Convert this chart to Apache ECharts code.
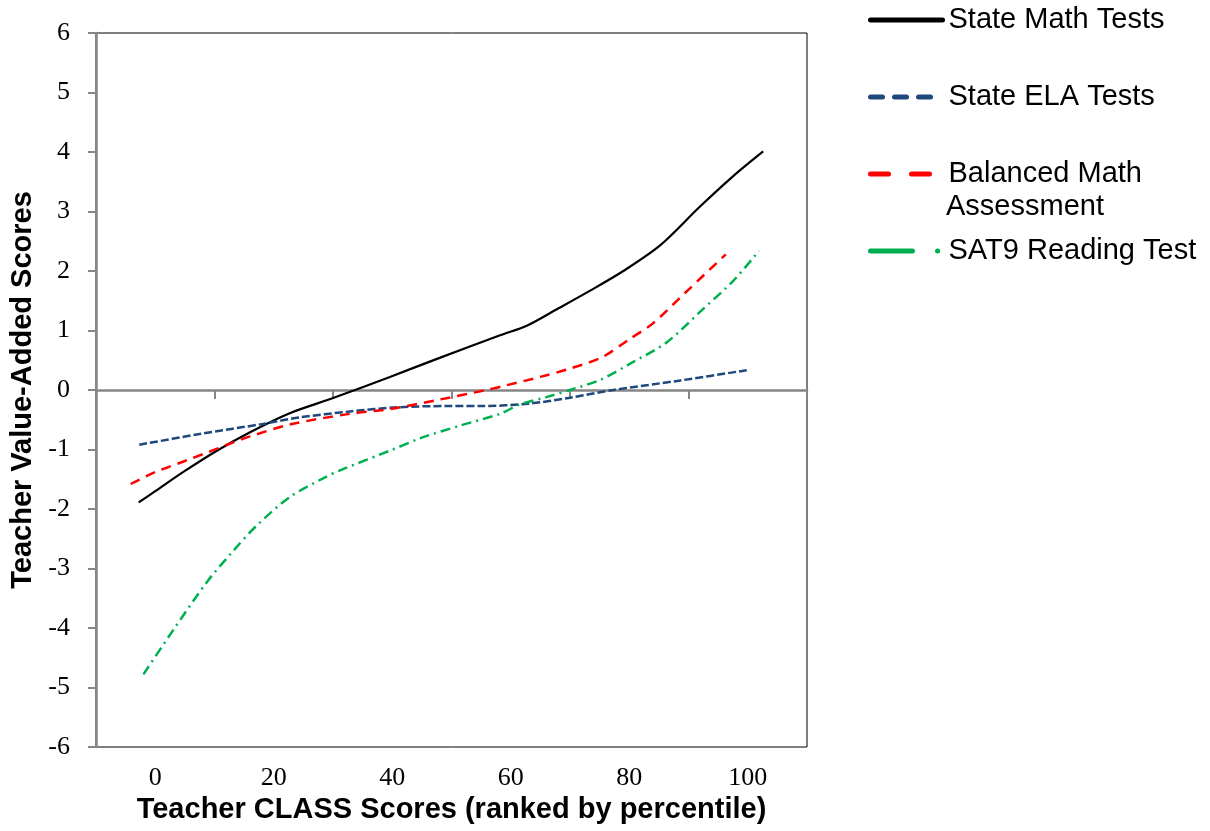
<!DOCTYPE html>
<html><head><meta charset="utf-8">
<script src="https://cdn.jsdelivr.net/npm/echarts@6/dist/echarts.min.js"></script>
<style>html,body{margin:0;padding:0;background:#fff}#c{width:1210px;height:831px}</style>
</head><body><div id="c"></div>
<script>
// ---- data ----
const seriesNames = ['State Math Tests', 'State ELA Tests', 'Balanced Math Assessment', 'SAT9 Reading Test'];
const xTickLabels = [0, 20, 40, 60, 80, 100];
const yTickLabels = [-6, -5, -4, -3, -2, -1, 0, 1, 2, 3, 4, 5, 6];

const mathX = [-2.8, 0, 5, 10.4, 16, 22.7, 29.9, 39.6, 48, 58.2, 62.7, 68, 73.4, 79, 85.2, 91.9, 97.6, 102.6];
const mathY = [-1.89, -1.70, -1.36, -1.02, -0.71, -0.39, -0.14, 0.22, 0.54, 0.92, 1.08, 1.37, 1.67, 2.0, 2.43, 3.08, 3.60, 4.01];

const elaX = [-2.7, 7.5, 18.2, 24.4, 32.9, 41, 49, 55, 63, 70, 77.3, 88.6, 100.3];
const elaY = [-0.92, -0.74, -0.57, -0.46, -0.36, -0.29, -0.27, -0.27, -0.23, -0.13, 0, 0.16, 0.34];

const balX = [-4.15, 0, 5.9, 13.2, 16, 22.7, 32.9, 39.6, 48, 55.9, 59.3, 65, 70, 75.4, 80.1, 84, 89.4, 96.3];
const balY = [-1.58, -1.38, -1.16, -0.88, -0.78, -0.58, -0.40, -0.32, -0.16, 0, 0.08, 0.22, 0.36, 0.55, 0.86, 1.12, 1.63, 2.28];

const satX = [-2, 3, 8.7, 13.2, 17.1, 22.7, 28.4, 31.2, 39.6, 45, 51.4, 58.2, 61.6, 66, 70, 75.1, 80.1, 86.3, 91.9, 97.6, 101.9];
const satY = [-4.78, -4.04, -3.23, -2.70, -2.28, -1.80, -1.48, -1.35, -1.02, -0.80, -0.60, -0.40, -0.24, -0.12, 0, 0.17, 0.44, 0.80, 1.31, 1.84, 2.34];

const zip = (xs, ys) => xs.map((x, i) => [x, ys[i]]);

const chart = echarts.init(document.getElementById('c'), null, {renderer: 'canvas'});

const serif = 'Liberation Serif';
const sans = 'Liberation Sans';
const grey = '#868686';

function legendFor(name, top, lineStyle) {
  return {
    data: [name], orient: 'vertical', left: 868, top: top, padding: 0,
    itemWidth: 72, itemHeight: 30, itemGap: 0,
    selectedMode: false,
    formatter: n => n === 'Balanced Math Assessment' ? 'Balanced Math' : n,
    textStyle: {fontFamily: sans, fontSize: 29, color: '#000', lineHeight: 30, padding: [0, 0, 0, 1]},
    itemStyle: {opacity: 0},
    lineStyle: lineStyle
  };
}

const option = {
  animation: false,
  backgroundColor: '#fff',
  grid: {left: 96, right: 403, top: 33, bottom: 84, show: true, borderColor: '#000', borderWidth: 1, containLabel: false},
  legend: [
    legendFor(seriesNames[0], 5, {width: 5, type: 'solid', cap: 'round'}),
    legendFor(seriesNames[1], 82, {width: 5, type: [12, 12], cap: 'round'}),
    legendFor(seriesNames[2], 159, {width: 5, type: [18, 23], cap: 'round'}),
    legendFor(seriesNames[3], 236, {width: 5, type: [42, 25, 0.1, 50], cap: 'round'})
  ],
  graphic: [{
    type: 'text', left: 946, top: 192,
    style: {text: 'Assessment', font: '29px "Liberation Sans"', fill: '#000'}
  }],
  xAxis: [{
    type: 'value', min: -10, max: 110, interval: 20,
    axisLine: {onZero: true, lineStyle: {color: grey, width: 2.5}},
    axisTick: {show: true, length: 9, inside: false, lineStyle: {color: grey, width: 2}},
    axisLabel: {show: false},
    splitLine: {show: false}
  }, {
    type: 'value', min: -10, max: 110, position: 'bottom',
    axisLine: {show: false}, axisTick: {show: false},
    axisLabel: {show: true, customValues: xTickLabels, margin: 18,
      fontFamily: serif, fontSize: 26, color: '#000'},
    splitLine: {show: false},
    name: 'Teacher CLASS Scores (ranked by percentile)',
    nameLocation: 'middle', nameGap: 48,
    nameTextStyle: {fontFamily: sans, fontSize: 29, fontWeight: 'bold', color: '#000'}
  }],
  yAxis: {
    type: 'value', min: -6, max: 6, interval: 1,
    axisLine: {show: true, onZero: false, lineStyle: {color: grey, width: 2.5}},
    axisTick: {show: true, length: 8, lineStyle: {color: grey, width: 2}},
    axisLabel: {margin: 26, fontFamily: serif, fontSize: 26, color: '#000',
      customValues: yTickLabels},
    splitLine: {show: false},
    name: 'Teacher Value-Added Scores', nameLocation: 'middle', nameGap: 57,
    nameTextStyle: {fontFamily: sans, fontSize: 29, fontWeight: 'bold', color: '#000'}
  },
  series: [
    {name: seriesNames[0], type: 'line', xAxisIndex: 0, data: zip(mathX, mathY), smooth: 0.3,
     symbol: 'none', color: '#000', lineStyle: {color: '#000', width: 2.2, type: 'solid'}},
    {name: seriesNames[1], type: 'line', xAxisIndex: 0, data: zip(elaX, elaY), smooth: 0.3,
     symbol: 'none', color: '#1F497D', lineStyle: {color: '#1F497D', width: 2.5, type: [8, 3]}},
    {name: seriesNames[2], type: 'line', xAxisIndex: 0, data: zip(balX, balY), smooth: 0.3,
     symbol: 'none', color: '#FF0000', lineStyle: {color: '#FF0000', width: 2.5, type: [10, 7]}},
    {name: seriesNames[3], type: 'line', xAxisIndex: 0, data: zip(satX, satY), smooth: 0.3,
     symbol: 'none', color: '#00B050', lineStyle: {color: '#00B050', width: 2.5, type: [10, 5, 2, 5]}}
  ]
};
chart.setOption(option);
</script></body></html>
